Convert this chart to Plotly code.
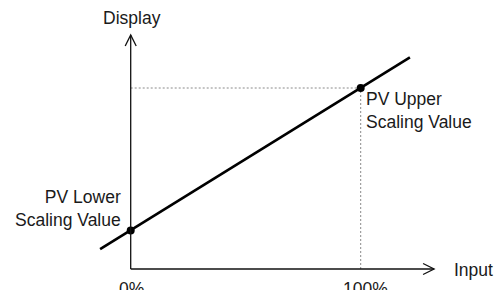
import plotly.graph_objects as go

# ---- data ----
input_pct = [0, 100]                 # input points: 0% and 100%
display_value = [21.3, 100]          # PV lower / upper scaling values (display units)
line_x = [-13.3, 121.4]              # extent of the drawn scaling line (input %)
line_y = [11.0, 116.9]               # display at those extents
tick_labels = ["0%", "100%"]
point_labels = ["PV Lower<br>Scaling Value", "PV Upper<br>Scaling Value"]
x_axis_title = "Input"
y_axis_title = "Display"
x_axis_end = 131.9                   # where the input axis arrow ends
y_axis_end = 129.3                   # where the display axis arrow ends

# ---- geometry / style ----
W, H = 497, 290
px_x = 2.30      # pixels per input %
px_y = 1.81      # pixels per display unit
x0_pix, y0_pix = 130.7, 269.0
x_range = [-x0_pix / px_x, (W - x0_pix) / px_x]
y_range = [(y0_pix - H) / px_y, y0_pix / px_y]

FONT = dict(family="Liberation Sans, Arial, Helvetica, sans-serif", size=17.5, color="#1a1a1a")
AX = dict(color="#111", width=1.3)

fig = go.Figure()

# scaling line
fig.add_trace(go.Scatter(x=line_x, y=line_y, mode="lines",
                         line=dict(color="black", width=2.6),
                         hoverinfo="skip", showlegend=False))
# scaling points
fig.add_trace(go.Scatter(x=input_pct, y=display_value, mode="markers",
                         marker=dict(color="black", size=8),
                         hoverinfo="skip", showlegend=False))

shapes = []
# axes
shapes.append(dict(type="line", xref="x", yref="y", x0=0, y0=0, x1=x_axis_end, y1=0, line=AX))
shapes.append(dict(type="line", xref="x", yref="y", x0=0, y0=0, x1=0, y1=y_axis_end, line=AX))
# open chevron arrowheads
back, half = 11, 5.5
shapes.append(dict(type="path", xref="x", yref="y",
                   path=f"M {x_axis_end - back/px_x},{half/px_y} L {x_axis_end},0 L {x_axis_end - back/px_x},{-half/px_y}",
                   line=AX))
shapes.append(dict(type="path", xref="x", yref="y",
                   path=f"M {-half/px_x},{y_axis_end - back/px_y} L 0,{y_axis_end} L {half/px_x},{y_axis_end - back/px_y}",
                   line=AX))
# dotted guide lines to the upper point
DOT = dict(color="#8a8a8a", width=1, dash="2px,2px")
shapes.append(dict(type="line", xref="x", yref="y", x0=0, y0=display_value[1],
                   x1=input_pct[1], y1=display_value[1], line=DOT, layer="below"))
shapes.append(dict(type="line", xref="x", yref="y", x0=input_pct[1], y0=0,
                   x1=input_pct[1], y1=display_value[1], line=DOT, layer="below"))

ann = []
ann.append(dict(x=0, y=y_axis_end, xref="x", yref="y", text=y_axis_title, showarrow=False,
                xanchor="center", yanchor="bottom", yshift=5, xshift=1, font=FONT))
ann.append(dict(x=x_axis_end, y=0, xref="x", yref="y", text=x_axis_title, showarrow=False,
                xanchor="left", yanchor="middle", xshift=18, yshift=-1, font=FONT))
ann.append(dict(x=input_pct[0], y=0, xref="x", yref="y", text=tick_labels[0], showarrow=False,
                xanchor="center", yanchor="top", yshift=-8, xshift=1, font=FONT))
ann.append(dict(x=input_pct[1], y=0, xref="x", yref="y", text=tick_labels[1], showarrow=False,
                xanchor="center", yanchor="top", yshift=-8, xshift=5, font=FONT))
ann.append(dict(x=input_pct[0], y=display_value[0], xref="x", yref="y", text=point_labels[0],
                showarrow=False, xanchor="right", yanchor="middle", align="right",
                xshift=-8, yshift=22, font=FONT))
ann.append(dict(x=input_pct[1], y=display_value[1], xref="x", yref="y", text=point_labels[1],
                showarrow=False, xanchor="left", yanchor="middle", align="left",
                xshift=3, yshift=-22, font=FONT))

fig.update_layout(
    width=W, height=H, margin=dict(l=0, r=0, t=0, b=0),
    paper_bgcolor="white", plot_bgcolor="white",
    xaxis=dict(range=x_range, visible=False, fixedrange=True),
    yaxis=dict(range=y_range, visible=False, fixedrange=True),
    shapes=shapes, annotations=ann, showlegend=False,
)

fig.write_html("out.html", config={"displayModeBar": False},
               post_script="document.body.style.margin='0';document.body.style.overflow='hidden';")
